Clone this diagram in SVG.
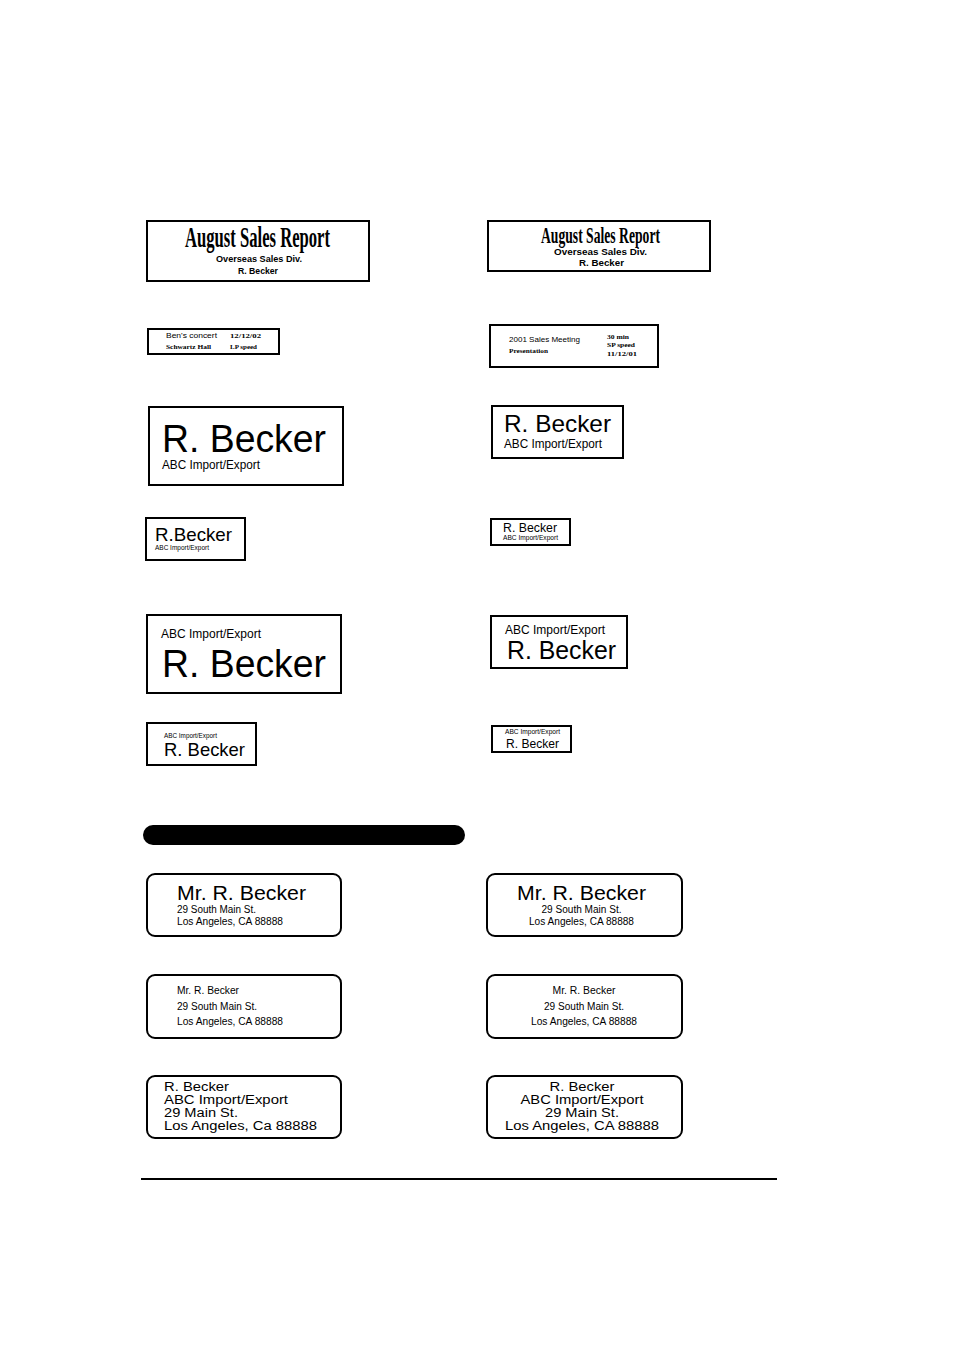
<svg xmlns="http://www.w3.org/2000/svg" width="954" height="1348" viewBox="0 0 954 1348">
<style>
.box{fill:#fff;stroke:#000;stroke-width:2}
.rbox{fill:#fff;stroke:#000;stroke-width:2}
.s{font-family:"Liberation Sans",Arial,sans-serif;fill:#000}
.sb{font-family:"Liberation Sans",Arial,sans-serif;font-weight:bold;fill:#000}
.cond{font-family:"Liberation Serif","Times New Roman",serif;font-weight:bold;fill:#000}
.sr{font-family:"Liberation Serif","Times New Roman",serif;font-weight:bold;fill:#000}
.c{text-anchor:middle}
</style>
<rect width="954" height="1348" fill="#fff"/>

<g id="label-a1">
<rect class="box" x="147" y="221" width="222" height="60"/>
<text class="cond" x="185" y="247" font-size="29" textLength="145" lengthAdjust="spacingAndGlyphs">August Sales Report</text>
<text class="sb" x="216" y="262" font-size="8.5" textLength="86" lengthAdjust="spacingAndGlyphs">Overseas Sales Div.</text>
<text class="sb" x="238" y="274" font-size="8.5" textLength="40" lengthAdjust="spacingAndGlyphs">R. Becker</text>
</g>

<g id="label-a2">
<rect class="box" x="488" y="221" width="222" height="50"/>
<text class="cond" x="541" y="243" font-size="23" textLength="119" lengthAdjust="spacingAndGlyphs">August Sales Report</text>
<text class="sb" x="554" y="255" font-size="9" textLength="93" lengthAdjust="spacingAndGlyphs">Overseas Sales Div.</text>
<text class="sb" x="579" y="266" font-size="8.5" textLength="45" lengthAdjust="spacingAndGlyphs">R. Becker</text>
</g>

<g id="label-b1">
<rect class="box" x="148" y="329" width="131" height="25"/>
<text class="s" x="166" y="338" font-size="7.5" textLength="51" lengthAdjust="spacingAndGlyphs">Ben's concert</text>
<text class="sr" x="230" y="338" font-size="7" textLength="31" lengthAdjust="spacingAndGlyphs">12/12/02</text>
<text class="sr" x="166" y="349" font-size="6.5" textLength="45" lengthAdjust="spacingAndGlyphs">Schwartz Hall</text>
<text class="sr" x="230" y="349" font-size="6.5" textLength="27" lengthAdjust="spacingAndGlyphs">LP speed</text>
</g>

<g id="label-b2">
<rect class="box" x="490" y="325" width="168" height="42"/>
<text class="s" x="509" y="342" font-size="8" textLength="71" lengthAdjust="spacingAndGlyphs">2001 Sales Meeting</text>
<text class="sr" x="509" y="353" font-size="6.5" textLength="39" lengthAdjust="spacingAndGlyphs">Presentation</text>
<text class="sr" x="607" y="339" font-size="6.5" textLength="22" lengthAdjust="spacingAndGlyphs">30 min</text>
<text class="sr" x="607" y="347" font-size="6.5" textLength="28" lengthAdjust="spacingAndGlyphs">SP speed</text>
<text class="sr" x="607" y="356" font-size="6.5" textLength="30" lengthAdjust="spacingAndGlyphs">11/12/01</text>
</g>

<g id="label-c1">
<rect class="box" x="149" y="407" width="194" height="78"/>
<text class="s" x="162" y="452" font-size="38" textLength="164" lengthAdjust="spacingAndGlyphs">R. Becker</text>
<text class="s" x="162" y="469" font-size="12" textLength="98" lengthAdjust="spacingAndGlyphs">ABC Import/Export</text>
</g>

<g id="label-c2">
<rect class="box" x="492" y="406" width="131" height="52"/>
<text class="s" x="504" y="432" font-size="24.5" textLength="107" lengthAdjust="spacingAndGlyphs">R. Becker</text>
<text class="s" x="504" y="448" font-size="12" textLength="98" lengthAdjust="spacingAndGlyphs">ABC Import/Export</text>
</g>

<g id="label-d1">
<rect class="box" x="146" y="518" width="99" height="42"/>
<text class="s" x="155" y="541" font-size="18.5" textLength="77" lengthAdjust="spacingAndGlyphs">R.Becker</text>
<text class="s" x="155" y="550" font-size="6.5" textLength="54" lengthAdjust="spacingAndGlyphs">ABC Import/Export</text>
</g>

<g id="label-d2">
<rect class="box" x="491" y="519" width="79" height="26"/>
<text class="s" x="503" y="532" font-size="12.3" textLength="54" lengthAdjust="spacingAndGlyphs">R. Becker</text>
<text class="s" x="503" y="540" font-size="6.5" textLength="55" lengthAdjust="spacingAndGlyphs">ABC Import/Export</text>
</g>

<g id="label-e1">
<rect class="box" x="147" y="615" width="194" height="78"/>
<text class="s" x="161" y="638" font-size="12" textLength="100" lengthAdjust="spacingAndGlyphs">ABC Import/Export</text>
<text class="s" x="162" y="677" font-size="38" textLength="164" lengthAdjust="spacingAndGlyphs">R. Becker</text>
</g>

<g id="label-e2">
<rect class="box" x="491" y="616" width="136" height="52"/>
<text class="s" x="505" y="634" font-size="12" textLength="100" lengthAdjust="spacingAndGlyphs">ABC Import/Export</text>
<text class="s" x="507" y="659" font-size="25" textLength="109" lengthAdjust="spacingAndGlyphs">R. Becker</text>
</g>

<g id="label-f1">
<rect class="box" x="147" y="723" width="109" height="42"/>
<text class="s" x="164" y="738" font-size="6.4" textLength="53" lengthAdjust="spacingAndGlyphs">ABC Import/Export</text>
<text class="s" x="164" y="756" font-size="18.5" textLength="81" lengthAdjust="spacingAndGlyphs">R. Becker</text>
</g>

<g id="label-f2">
<rect class="box" x="492" y="726" width="79" height="26"/>
<text class="s" x="505" y="734" font-size="6.5" textLength="55" lengthAdjust="spacingAndGlyphs">ABC Import/Export</text>
<text class="s" x="506" y="748" font-size="12" textLength="53" lengthAdjust="spacingAndGlyphs">R. Becker</text>
</g>

<g id="bar">
<rect x="143" y="825" width="322" height="20" rx="10" fill="#000"/>
</g>

<g id="label-g1">
<rect class="rbox" x="147" y="874" width="194" height="62" rx="8"/>
<text class="s" x="177" y="900" font-size="21" textLength="129" lengthAdjust="spacingAndGlyphs">Mr. R. Becker</text>
<text class="s" x="177" y="913" font-size="10" textLength="79" lengthAdjust="spacingAndGlyphs">29 South Main St.</text>
<text class="s" x="177" y="925" font-size="10" textLength="106" lengthAdjust="spacingAndGlyphs">Los Angeles, CA 88888</text>
</g>

<g id="label-g2">
<rect class="rbox" x="487" y="874" width="195" height="62" rx="8"/>
<text class="s c" x="581.5" y="900" font-size="21" textLength="129" lengthAdjust="spacingAndGlyphs">Mr. R. Becker</text>
<text class="s c" x="581.5" y="913" font-size="10" textLength="80" lengthAdjust="spacingAndGlyphs">29 South Main St.</text>
<text class="s c" x="581.5" y="925" font-size="10" textLength="105" lengthAdjust="spacingAndGlyphs">Los Angeles, CA 88888</text>
</g>

<g id="label-h1">
<rect class="rbox" x="147" y="975" width="194" height="63" rx="8"/>
<text class="s" x="177" y="994" font-size="10" textLength="62" lengthAdjust="spacingAndGlyphs">Mr. R. Becker</text>
<text class="s" x="177" y="1010" font-size="10" textLength="80" lengthAdjust="spacingAndGlyphs">29 South Main St.</text>
<text class="s" x="177" y="1025" font-size="10" textLength="106" lengthAdjust="spacingAndGlyphs">Los Angeles, CA 88888</text>
</g>

<g id="label-h2">
<rect class="rbox" x="487" y="975" width="195" height="63" rx="8"/>
<text class="s c" x="584" y="994" font-size="10" textLength="63" lengthAdjust="spacingAndGlyphs">Mr. R. Becker</text>
<text class="s c" x="584" y="1010" font-size="10" textLength="80" lengthAdjust="spacingAndGlyphs">29 South Main St.</text>
<text class="s c" x="584" y="1025" font-size="10" textLength="106" lengthAdjust="spacingAndGlyphs">Los Angeles, CA 88888</text>
</g>

<g id="label-i1">
<rect class="rbox" x="147" y="1076" width="194" height="62" rx="8"/>
<text class="s" x="164" y="1091" font-size="12" textLength="65" lengthAdjust="spacingAndGlyphs">R. Becker</text>
<text class="s" x="164" y="1104" font-size="12" textLength="124" lengthAdjust="spacingAndGlyphs">ABC Import/Export</text>
<text class="s" x="164" y="1117" font-size="12" textLength="74" lengthAdjust="spacingAndGlyphs">29 Main St.</text>
<text class="s" x="164" y="1130" font-size="12" textLength="153" lengthAdjust="spacingAndGlyphs">Los Angeles, Ca 88888</text>
</g>

<g id="label-i2">
<rect class="rbox" x="487" y="1076" width="195" height="62" rx="8"/>
<text class="s c" x="582" y="1091" font-size="12" textLength="65" lengthAdjust="spacingAndGlyphs">R. Becker</text>
<text class="s c" x="582" y="1104" font-size="12" textLength="123" lengthAdjust="spacingAndGlyphs">ABC Import/Export</text>
<text class="s c" x="582" y="1117" font-size="12" textLength="74" lengthAdjust="spacingAndGlyphs">29 Main St.</text>
<text class="s c" x="582" y="1130" font-size="12" textLength="154" lengthAdjust="spacingAndGlyphs">Los Angeles, CA 88888</text>
</g>

<g id="connectors"></g>

<line x1="141" y1="1179" x2="777" y2="1179" stroke="#000" stroke-width="2"/>
</svg>
